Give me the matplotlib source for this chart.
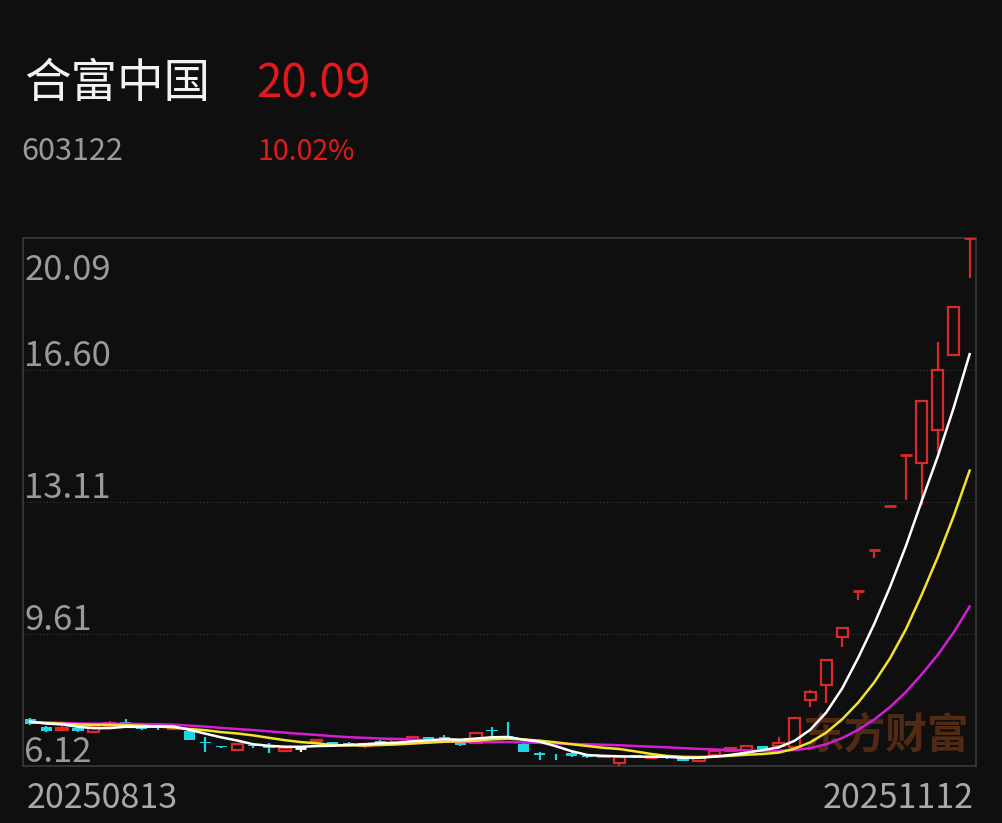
import numpy as np
import matplotlib.pyplot as plt

plt.rcParams['font.family'] = ['Noto Sans CJK SC', 'DejaVu Sans']

name = '合富中国'
code = '603122'
last_price = '20.09'
change_pct = '10.02%'
start_date = '20250813'
end_date = '20251112'

# daily k-line, 20250813 .. 20251112
opens = [7.36, 7.15, 7.08, 7.12, 7.02, 7.18, 7.28, 7.22, 7.15, 7.10,
         7.05, 6.76, 6.65, 6.55, 6.68, 6.67, 6.52, 6.60, 6.78, 6.75,
         6.74, 6.66, 6.78, 6.75, 6.77, 6.88, 6.90, 6.72, 6.73, 7.08,
         6.92, 6.70, 6.46, 6.42, 6.46, 6.40, 6.37, 6.20, 6.40, 6.34,
         6.36, 6.33, 6.25, 6.42, 6.52, 6.55, 6.64, 6.65, 6.62, 7.87,
         8.26, 9.53, 10.75, 11.83, 13.01, 14.35, 14.14, 15.01, 16.99, 20.09]
highs = [7.38, 7.17, 7.18, 7.14, 7.16, 7.30, 7.36, 7.25, 7.18, 7.16,
         7.08, 6.89, 6.66, 6.71, 6.72, 6.73, 6.62, 6.60, 6.84, 6.76,
         6.76, 6.72, 6.80, 6.85, 6.89, 6.89, 6.95, 6.75, 7.00, 7.15,
         7.28, 6.72, 6.49, 6.44, 6.49, 6.41, 6.40, 6.37, 6.42, 6.38,
         6.37, 6.34, 6.37, 6.53, 6.61, 6.66, 6.65, 6.88, 7.39, 8.13,
         8.95, 9.81, 10.75, 11.83, 13.01, 14.35, 15.78, 17.34, 18.28, 20.09]
lows = [7.20, 7.03, 7.05, 7.03, 7.00, 7.16, 7.20, 7.07, 7.08, 7.08,
        6.80, 6.49, 6.60, 6.53, 6.60, 6.46, 6.50, 6.50, 6.75, 6.66,
        6.64, 6.60, 6.73, 6.74, 6.75, 6.81, 6.81, 6.64, 6.72, 6.88,
        6.86, 6.48, 6.28, 6.28, 6.36, 6.33, 6.34, 6.12, 6.33, 6.32,
        6.31, 6.24, 6.24, 6.41, 6.50, 6.53, 6.57, 6.58, 6.60, 7.68,
        7.79, 9.27, 10.51, 11.62, 13.01, 13.16, 13.03, 14.43, 16.97, 19.03]
closes = [7.23, 7.05, 7.12, 7.05, 7.15, 7.25, 7.22, 7.10, 7.12, 7.13,
          6.81, 6.72, 6.61, 6.70, 6.64, 6.60, 6.60, 6.60, 6.80, 6.68,
          6.70, 6.70, 6.74, 6.84, 6.88, 6.83, 6.85, 6.68, 6.99, 7.05,
          6.87, 6.49, 6.42, 6.40, 6.38, 6.36, 6.38, 6.36, 6.36, 6.37,
          6.34, 6.25, 6.36, 6.52, 6.60, 6.64, 6.58, 6.72, 7.39, 8.08,
          8.92, 9.77, 10.75, 11.83, 13.01, 14.35, 15.78, 16.60, 18.26, 20.09]
# closes before the window, only used for the moving averages
hist_closes = [7.30, 7.26, 7.35, 7.28, 7.22, 7.31, 7.27, 7.24, 7.33, 7.29,
               7.25, 7.32, 7.28, 7.21, 7.26, 7.30, 7.24, 7.36, 7.34]
price_levels = [6.12, 9.61, 13.11, 16.60, 20.09]

bg = '#0f0f0f'
red = '#d8292b'
cyan = '#1fd5e4'
grey = '#9a9a9a'

W, H = 1002, 823
fig = plt.figure(figsize=(W / 100, H / 100), dpi=100, facecolor=bg)
ax = fig.add_axes([23 / W, 1 - 766 / H, 953 / W, 528 / H], facecolor=bg)

n = len(closes)
x = np.arange(n)
o = np.array(opens); c = np.array(closes)
hi = np.array(highs); lo = np.array(lows)
bw = 0.7

prev = np.r_[hist_closes[-1], c[:-1]]
for i in range(n):
    if c[i] > o[i] or (c[i] == o[i] and c[i] > prev[i]):
        col = red
    elif c[i] < o[i] or (c[i] == o[i] and c[i] < prev[i]):
        col = cyan
    else:
        col = 'white'
    top, bot = max(o[i], c[i]), min(o[i], c[i])
    if top == bot:
        ax.hlines(top, x[i] - bw / 2, x[i] + bw / 2, color=col, lw=2, zorder=3)
        ax.vlines(x[i], lo[i], hi[i], color=col, lw=1.6, zorder=3)
    elif col == red:
        ax.bar(x[i], top - bot, bw, bot, facecolor=bg, edgecolor=col, lw=1.6, zorder=3)
        ax.vlines(x[i], top, hi[i], color=col, lw=1.6, zorder=3)
        ax.vlines(x[i], lo[i], bot, color=col, lw=1.6, zorder=3)
    else:
        ax.vlines(x[i], lo[i], hi[i], color=col, lw=1.6, zorder=3)
        ax.bar(x[i], top - bot, bw, bot, color=col, lw=0, zorder=3)

allc = np.array(hist_closes + closes)
for period, col in [(20, '#d41ed4'), (10, '#f2e22e'), (5, 'white')]:
    ma = np.convolve(allc, np.ones(period) / period, mode='valid')[-n:]
    ax.plot(x, ma, color=col, lw=1.8, zorder=4)

ax.text(0.993, 0.057, '东方财富', transform=ax.transAxes, ha='right', va='center',
        fontsize=30, fontweight='bold', color='#522a14', zorder=1)

ax.set_xlim(-0.45, n - 1 + 0.4)
ax.set_ylim(price_levels[0], price_levels[-1])
for lv in price_levels[1:-1]:
    ax.axhline(lv, color='#3a3a3a', lw=0.8, ls=(0, (1, 2)), zorder=0)
for lv in price_levels:
    dy = -30 if lv == price_levels[-1] else 3
    ax.annotate(f'{lv:.2f}', (0, lv), xycoords=('axes fraction', 'data'),
                xytext=(1, dy), textcoords='offset points',
                va='baseline', ha='left', fontsize=25, color=grey, fontweight='light')

ax.set_xticks([]); ax.set_yticks([])
for s in ax.spines.values():
    s.set_color('#3a3a3a')
    s.set_linewidth(1.2)

fig.text(24 / W, 1 - 84 / H, name, fontsize=33.5, color='#f2f2f2', va='center', ha='left')
fig.text(256 / W, 1 - 84 / H, last_price, fontsize=33, color='#e3191c', va='center', ha='left',
         fontweight='light')
fig.text(21 / W, 1 - 152 / H, code, fontsize=22, color=grey, va='center', ha='left',
         fontweight='light')
fig.text(258 / W, 1 - 152 / H, change_pct, fontsize=20.6, color='#e3191c', va='center', ha='left',
         fontweight='light')
fig.text(27 / W, 1 - 799 / H, start_date, fontsize=24.5, color='#a8a8a8', va='center', ha='left',
         fontweight='light')
fig.text(974 / W, 1 - 799 / H, end_date, fontsize=24.5, color='#a8a8a8', va='center', ha='right',
         fontweight='light')

fig.savefig('out.png', dpi=100, facecolor=bg)
